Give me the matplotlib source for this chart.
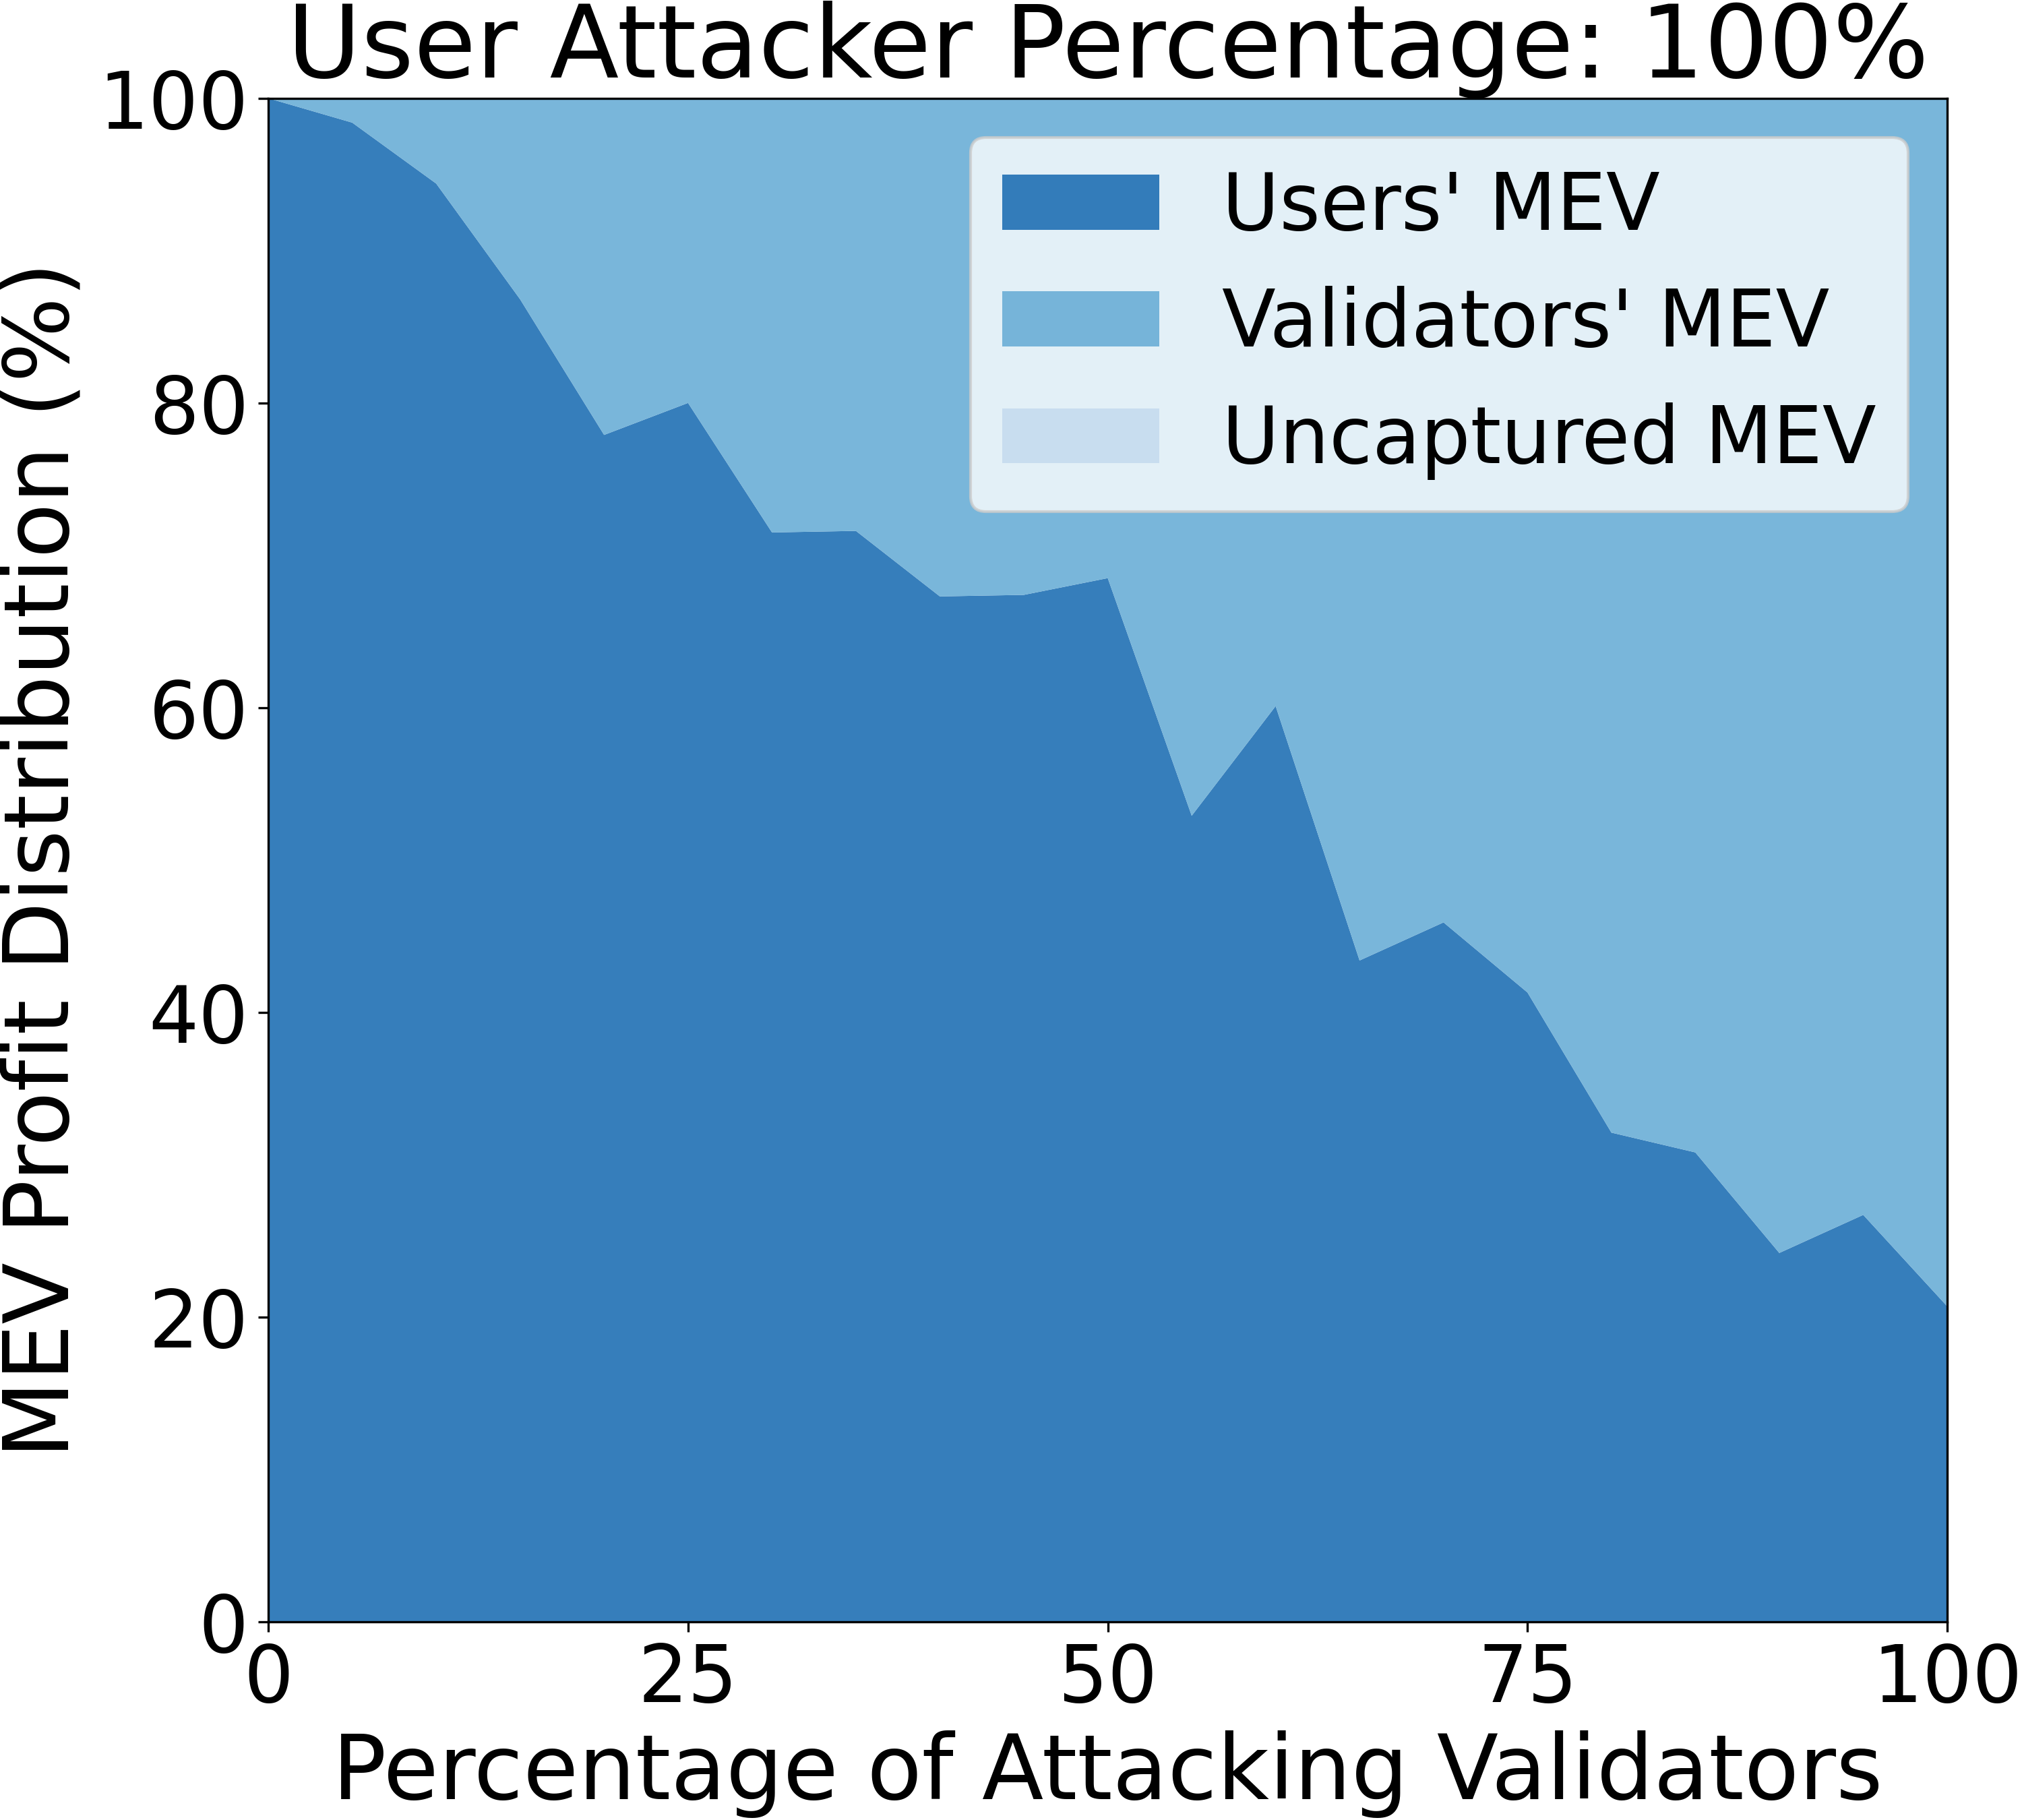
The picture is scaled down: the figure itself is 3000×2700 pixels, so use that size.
import numpy as np
import matplotlib.pyplot as plt

# Percentuais de validadores atacantes e distribuicao do MEV
attacking_pct = [0, 5, 10, 15, 20, 25, 30, 35, 40, 45, 50, 55, 60, 65, 70, 75, 80, 85, 90, 95, 100]
users_mev = [100.0, 98.4, 94.4, 86.8, 77.9, 80.0, 71.5, 71.6, 67.3, 67.4, 68.5,
             52.9, 60.1, 43.4, 45.9, 41.3, 32.1, 30.8, 24.2, 26.7, 20.7]
uncaptured_mev = [0.0] * len(attacking_pct)
validators_mev = [100.0 - u - n for u, n in zip(users_mev, uncaptured_mev)]

labels = ["Users' MEV", "Validators' MEV", "Uncaptured MEV"]
title = 'User Attacker Percentage: 100%'

cmap = plt.get_cmap('Blues')
cores = [cmap(0.75), cmap(0.5), cmap(0.25)]

fig = plt.figure(figsize=(10, 9), dpi=300)
ax = fig.add_subplot(111)
fig.subplots_adjust(left=0.1327, right=0.963, bottom=0.109, top=0.946)

ax.stackplot(attacking_pct, users_mev, validators_mev, uncaptured_mev,
             labels=labels, colors=cores, alpha=0.9)

ax.set_xlim(0, 100)
ax.set_ylim(0, 100)
ax.set_xticks([0, 25, 50, 75, 100])
ax.set_yticks([0, 20, 40, 60, 80, 100])
ax.tick_params(axis='both', labelsize=28)

ax.set_xlabel('Percentage of Attacking Validators', fontsize=32)
ax.set_ylabel('MEV Profit Distribution (%)', fontsize=32)
ax.set_title(title, fontsize=36)
ax.legend(loc='upper right', fontsize=28)

fig.savefig('out.png', dpi=300)
